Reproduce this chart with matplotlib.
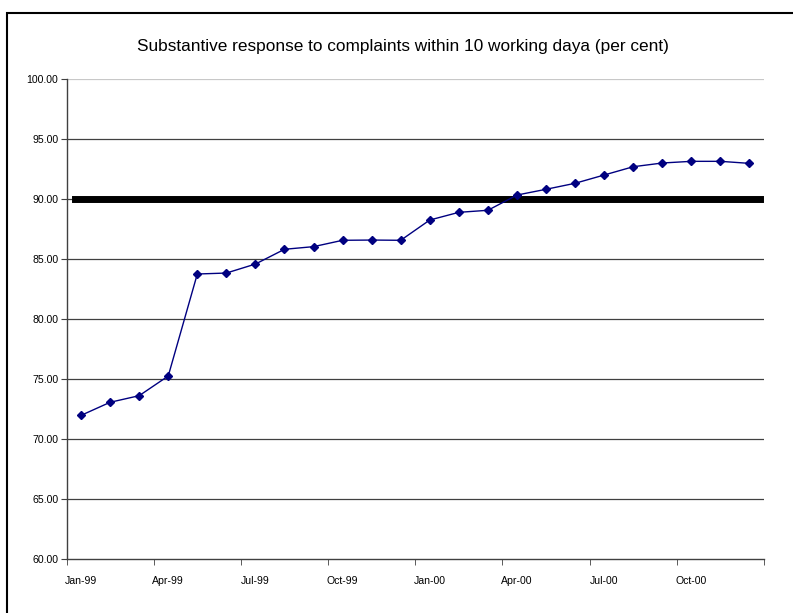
import matplotlib
matplotlib.use("Agg")
import matplotlib.pyplot as plt
from matplotlib.patches import Rectangle
import numpy as np

plt.rcParams['font.family'] = ['Liberation Sans', 'DejaVu Sans']

months = ['Jan-99', 'Feb-99', 'Mar-99', 'Apr-99', 'May-99', 'Jun-99',
          'Jul-99', 'Aug-99', 'Sep-99', 'Oct-99', 'Nov-99', 'Dec-99',
          'Jan-00', 'Feb-00', 'Mar-00', 'Apr-00', 'May-00', 'Jun-00',
          'Jul-00', 'Aug-00', 'Sep-00', 'Oct-00', 'Nov-00', 'Dec-00']
response = [71.97, 73.06, 73.61, 75.25, 83.75, 83.83,
            84.58, 85.81, 86.03, 86.56, 86.58, 86.56,
            88.25, 88.89, 89.06, 90.33, 90.81, 91.31,
            92.00, 92.69, 93.00, 93.14, 93.14, 92.97]
target = 90.0
yticks = [60, 65, 70, 75, 80, 85, 90, 95, 100]

fig = plt.figure(figsize=(7.93, 6.13), dpi=100)
ax = fig.add_axes([0.0839, 0.0881, 0.8795, 0.783])

x = np.arange(len(months))
ax.plot(x, response, color='#000080', lw=1.0, marker='D', ms=4.5,
        markeredgecolor='#000080', zorder=4)
ax.axhline(target, xmin=0.012, xmax=0.994, color='black', lw=5.0, zorder=3)

ax.set_ylim(60, 100)
ax.set_xlim(-0.5, len(months) - 0.5)
ax.set_yticks(yticks)
ax.set_yticklabels(['%.2f' % v for v in yticks], fontsize=7.6)
for v in yticks[1:]:
    c = '#c8c8c8' if v == 100 else '#404040'
    ax.axhline(v, color=c, lw=0.9, zorder=1)

# category labels every quarter, boundary ticks between categories
ax.set_xticks(x[::3])
ax.set_xticklabels(months[::3], fontsize=7.6)
ax.tick_params(axis='x', which='major', length=0, pad=12)
ax.set_xticks(np.arange(-0.5, len(months), 3), minor=True)
ax.tick_params(axis='x', which='minor', length=4, color='#404040')
ax.tick_params(axis='y', length=4, color='#404040', pad=2)

for s in ['top', 'right']:
    ax.spines[s].set_visible(False)
for s in ['left', 'bottom']:
    ax.spines[s].set_color('#404040')
    ax.spines[s].set_linewidth(1.0)

fig.text(0.508, 1 - 46 / 613, 'Substantive response to complaints within 10 working daya (per cent)',
         ha='center', va='center', fontsize=12.4)

fig.patches.append(Rectangle((7 / 793, -0.05), 1.1, 1 - 13 / 613 + 0.05,
                             transform=fig.transFigure, fill=False,
                             edgecolor='black', lw=1.5))

fig.savefig('out.png', dpi=100)
